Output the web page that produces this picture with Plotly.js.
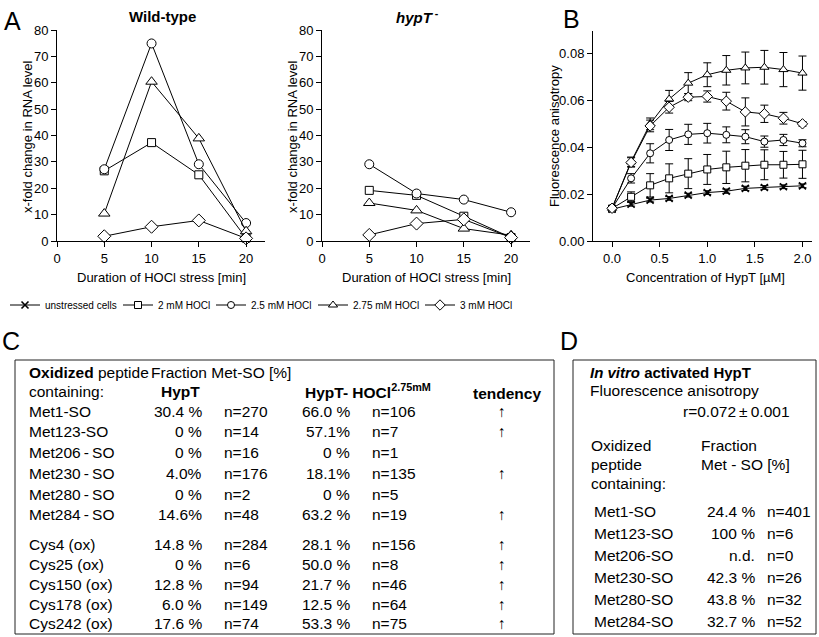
<!DOCTYPE html>
<html><head><meta charset="utf-8">
<script src="https://cdn.plot.ly/plotly-3.0.1.min.js"></script>
<style>html,body{margin:0;padding:0;background:#fff}#chart{width:819px;height:637px}</style>
</head><body><div id="chart"></div>
<script>
// ---------- Panel A data ----------
const timeMin = [5, 10, 15, 20];
const wt2mM   = [26.6, 37.3, 25.1, 1.1];
const wt25mM  = [27.2, 74.9, 29.1, 6.8];
const wt275mM = [10.4, 60.4, 38.9, 3.7];
const wt3mM   = [1.8, 5.4, 7.8, 1.0];
const ko2mM   = [19.2, 17.3, 9.4, 1.3];
const ko25mM  = [29.1, 18.0, 15.7, 10.9];
const ko275mM = [14.4, 11.6, 4.7, 2.2];
const ko3mM   = [2.3, 6.6, 8.2, 1.3];
const xTicksA = [0, 5, 10, 15, 20];
const yTicksA = [0, 10, 20, 30, 40, 50, 60, 70, 80];

// ---------- Panel B data ----------
const concHypT = [0, 0.2, 0.4, 0.6, 0.8, 1.0, 1.2, 1.4, 1.6, 1.8, 2.0];
const anisoUnstressed = [0.0136, 0.0157, 0.0175, 0.0182, 0.0196, 0.0207, 0.0213, 0.0225, 0.0229, 0.0232, 0.0236];
const errUnstressed   = [0.0006, 0.0008, 0.0008, 0.0008, 0.0008, 0.0008, 0.0009, 0.0009, 0.0008, 0.0008, 0.0008];
const aniso2mM   = [0.0139, 0.0189, 0.0238, 0.0268, 0.0288, 0.0306, 0.0315, 0.0322, 0.0326, 0.0326, 0.0328];
const err2mM     = [0.0005, 0.0021, 0.0050, 0.0062, 0.0064, 0.0064, 0.0069, 0.0069, 0.0064, 0.0057, 0.0060];
const aniso25mM  = [0.0140, 0.0268, 0.0375, 0.0432, 0.0456, 0.0461, 0.0454, 0.0446, 0.0425, 0.0432, 0.0418];
const err25mM    = [0.0005, 0.0020, 0.0041, 0.0045, 0.0043, 0.0042, 0.0034, 0.0030, 0.0024, 0.0024, 0.0015];
const aniso275mM = [0.0140, 0.0339, 0.0501, 0.0607, 0.0675, 0.0711, 0.0730, 0.0740, 0.0743, 0.0733, 0.0718];
const err275mM   = [0.0005, 0.0020, 0.0025, 0.0037, 0.0045, 0.0051, 0.0063, 0.0068, 0.0072, 0.0073, 0.0073];
const aniso3mM   = [0.0140, 0.0336, 0.0492, 0.0572, 0.0615, 0.0618, 0.0598, 0.0552, 0.0544, 0.0525, 0.0501];
const err3mM     = [0.0005, 0.0020, 0.0025, 0.0025, 0.0015, 0.0024, 0.0038, 0.0060, 0.0037, 0.0025, 0.0010];
const xTicksB = [0, 0.5, 1.0, 1.5, 2.0];
const yTicksB = [0, 0.02, 0.04, 0.06, 0.08];
const seriesNames = ['unstressed cells', '2 mM HOCl', '2.5 mM HOCl', '2.75 mM HOCl', '3 mM HOCl'];

// ---------- Panel C data ----------
const peptidesC = ['Met1-SO', 'Met123-SO', 'Met206\u2009-\u2009SO', 'Met230\u2009-\u2009SO', 'Met280\u2009-\u2009SO', 'Met284\u2009-\u2009SO',
                   'Cys4 (ox)', 'Cys25 (ox)', 'Cys150 (ox)', 'Cys178 (ox)', 'Cys242 (ox)'];
const hypTPct  = ['30.4 %', '0 %', '0 %', '4.0%', '0 %', '14.6%', '14.8 %', '0 %', '12.8 %', '6.0 %', '17.6 %'];
const hypTN    = ['n=270', 'n=14', 'n=16', 'n=176', 'n=2', 'n=48', 'n=284', 'n=6', 'n=94', 'n=149', 'n=74'];
const hoclPct  = ['66.0 %', '57.1%', '0 %', '18.1%', '0 %', '63.2 %', '28.1 %', '50.0 %', '21.7 %', '12.5 %', '53.3 %'];
const hoclN    = ['n=106', 'n=7', 'n=1', 'n=135', 'n=5', 'n=19', 'n=156', 'n=8', 'n=46', 'n=64', 'n=75'];
const tendency = ['\u2191', '\u2191', '', '\u2191', '', '\u2191', '\u2191', '\u2191', '\u2191', '\u2191', '\u2191'];

// ---------- Panel D data ----------
const peptidesD = ['Met1-SO', 'Met123-SO', 'Met206-SO', 'Met230-SO', 'Met280-SO', 'Met284-SO'];
const invitroPct = ['24.4 %', '100 %', 'n.d.', '42.3 %', '43.8 %', '32.7 %'];
const invitroN   = ['n=401', 'n=6', 'n=0', 'n=26', 'n=32', 'n=52'];
const anisoText  = 'r=0.072\u2009\u00b1\u20090.001';

// ---------- styling / layout ----------
const W = 819, H = 637;
const FONT = 'Liberation Sans, Arial, Helvetica, sans-serif';
const NARROW = 'Liberation Sans Narrow, Arial Narrow, Liberation Sans, Arial, sans-serif';
const px = v => v / W;
const py = v => 1 - v / H;

const symbols = ['x-thin', 'square', 'circle', 'triangle-up', 'diamond'];
const sizesA  = [8, 8, 9, 10, 10];
const sizesB  = [7, 7, 7, 8, 8];

function markerFor(i, size) {
  if (symbols[i] === 'x-thin') return {symbol: 'x-thin', size: size, color: '#000', line: {color: '#000', width: 1.6}};
  return {symbol: symbols[i], size: size, color: '#fff', line: {color: '#000', width: 1}};
}

const traces = [];
function addA(ys, i, xa, ya) {
  traces.push({type: 'scatter', mode: 'lines+markers', x: timeMin, y: ys, xaxis: xa, yaxis: ya,
    line: {color: '#000', width: 1}, marker: markerFor(i, sizesA[i]), cliponaxis: false,
    showlegend: false, name: seriesNames[i], hoverinfo: 'skip'});
}
[wt2mM, wt25mM, wt275mM, wt3mM].forEach((s, k) => addA(s, k + 1, 'x', 'y'));
[ko2mM, ko25mM, ko275mM, ko3mM].forEach((s, k) => addA(s, k + 1, 'x2', 'y2'));

const bSeries = [[anisoUnstressed, errUnstressed], [aniso2mM, err2mM], [aniso25mM, err25mM], [aniso275mM, err275mM], [aniso3mM, err3mM]];
const legendIds = ['legend', 'legend2', 'legend3', 'legend4', 'legend5'];
bSeries.forEach((s, i) => {
  traces.push({type: 'scatter', mode: 'lines+markers', x: concHypT, y: s[0], xaxis: 'x3', yaxis: 'y3',
    error_y: {type: 'data', array: s[1], visible: true, color: '#000', thickness: 1, width: 4},
    line: {color: '#000', width: 1}, marker: markerFor(i, sizesB[i]), cliponaxis: false,
    name: seriesNames[i], legend: legendIds[i], showlegend: true, hoverinfo: 'skip'});
});

function ax(extra) {
  return Object.assign({showline: true, linecolor: '#000', linewidth: 1, ticks: 'outside', ticklen: 5,
    tickwidth: 1, tickcolor: '#000', showgrid: false, zeroline: false, fixedrange: true,
    tickfont: {family: FONT, size: 13, color: '#000'}}, extra);
}

const ann = [];
function t(x, y, text, o) {
  o = o || {};
  ann.push({xref: 'paper', yref: 'paper', x: px(x), y: py(y), text: text, showarrow: false,
    xanchor: o.xa || 'left', yanchor: o.ya || 'middle', textangle: o.angle || 0,
    font: {family: o.family || FONT, size: o.size || 15.5, color: '#000'}});
}

// panel letters
t(12, 21, 'A', {xa: 'center', size: 25});
t(571, 19, 'B', {xa: 'center', size: 25});
t(11, 341, 'C', {xa: 'center', size: 25});
t(569, 341, 'D', {xa: 'center', size: 25});
// subplot titles
t(162, 16, '<b>Wild-type</b>', {xa: 'center', size: 15});
t(418, 16, '<b><i>hypT</i><sup> -</sup></b>', {xa: 'center', size: 15});
// axis titles
t(28, 137, 'x-fold change in RNA level', {xa: 'center', angle: -90, size: 13});
t(293, 137, 'x-fold change in RNA level', {xa: 'center', angle: -90, size: 13});
t(554, 136, 'Fluorescence anisotropy', {xa: 'center', angle: -90, size: 13});
t(161, 277, 'Duration of HOCl stress [min]', {xa: 'center', size: 13});
t(426, 277, 'Duration of HOCl stress [min]', {xa: 'center', size: 13});
t(705, 277, 'Concentration of HypT [\u00b5M]', {xa: 'center', size: 13});

// table C
t(27, 373, '<b>Oxidized</b> peptide');
t(149, 373, 'Fraction Met-SO [%]');
t(27, 391, 'containing:');
t(159, 391, '<b>HypT</b>');
t(303, 391, '<b>HypT- HOCl<sup>2.75mM</sup></b>');
t(507, 393, '<b>tendency</b>', {xa: 'center'});
const rowsC = [411, 431, 452, 473, 494, 514, 544, 564, 584, 604, 623];
peptidesC.forEach((p, i) => {
  const y = rowsC[i];
  t(27, y, p);
  t(204, y, hypTPct[i], {xa: 'right'});
  t(222, y, hypTN[i]);
  t(352, y, hoclPct[i], {xa: 'right'});
  t(370, y, hoclN[i]);
  if (tendency[i]) t(502, y, tendency[i], {xa: 'center'});
});

// table D
t(588, 372, '<b><i>In vitro</i> activated HypT</b>', {size: 15});
t(588, 390, 'Fluorescence anisotropy');
t(792, 411, anisoText, {xa: 'right'});
t(589, 445, 'Oxidized');
t(699, 445, 'Fraction');
t(589, 464, 'peptide');
t(699, 464, 'Met - SO [%]');
t(589, 483, 'containing:');
const rowsD = [511, 533, 555, 577, 599, 621];
peptidesD.forEach((p, i) => {
  const y = rowsD[i];
  t(592, y, p);
  t(757, y, invitroPct[i], {xa: 'right'});
  t(765, y, invitroN[i]);
});

const shapes = [
  {type: 'rect', xref: 'paper', yref: 'paper', x0: px(15), x1: px(554), y0: py(634), y1: py(360), line: {color: '#222', width: 1}},
  {type: 'rect', xref: 'paper', yref: 'paper', x0: px(573), x1: px(816), y0: py(634), y1: py(360), line: {color: '#222', width: 1}}
];

const legStarts = [5, 118, 211, 313, 420];
const layout = {
  width: W, height: H, margin: {l: 0, r: 0, t: 0, b: 0},
  paper_bgcolor: '#fff', plot_bgcolor: 'rgba(0,0,0,0)',
  font: {family: FONT, color: '#000'},
  xaxis:  ax({domain: [px(57), px(265)], range: [0, 22], tickvals: xTicksA, anchor: 'y'}),
  yaxis:  ax({domain: [py(241), py(30)], range: [0, 80], tickvals: yTicksA, anchor: 'x'}),
  xaxis2: ax({domain: [px(322), px(530)], range: [0, 22], tickvals: xTicksA, anchor: 'y2'}),
  yaxis2: ax({domain: [py(241), py(30)], range: [0, 80], tickvals: yTicksA, anchor: 'x2'}),
  xaxis3: ax({domain: [px(593), px(812)], range: [-0.2, 2.1], tickvals: xTicksB, tickformat: '.1f', anchor: 'y3'}),
  yaxis3: ax({domain: [py(241), py(31)], range: [0, 0.0898], tickvals: yTicksB, tickformat: '.2f', anchor: 'x3'}),
  annotations: ann, shapes: shapes
};
legendIds.forEach((id, i) => {
  layout[id] = {orientation: 'h', x: px(legStarts[i]), y: py(305), xanchor: 'left', yanchor: 'middle',
    bgcolor: 'rgba(0,0,0,0)', borderwidth: 0, itemwidth: 30,
    font: {family: NARROW, size: 10, color: '#000'}};
});

Plotly.newPlot('chart', traces, layout, {staticPlot: true, displayModeBar: false});
</script></body></html>
